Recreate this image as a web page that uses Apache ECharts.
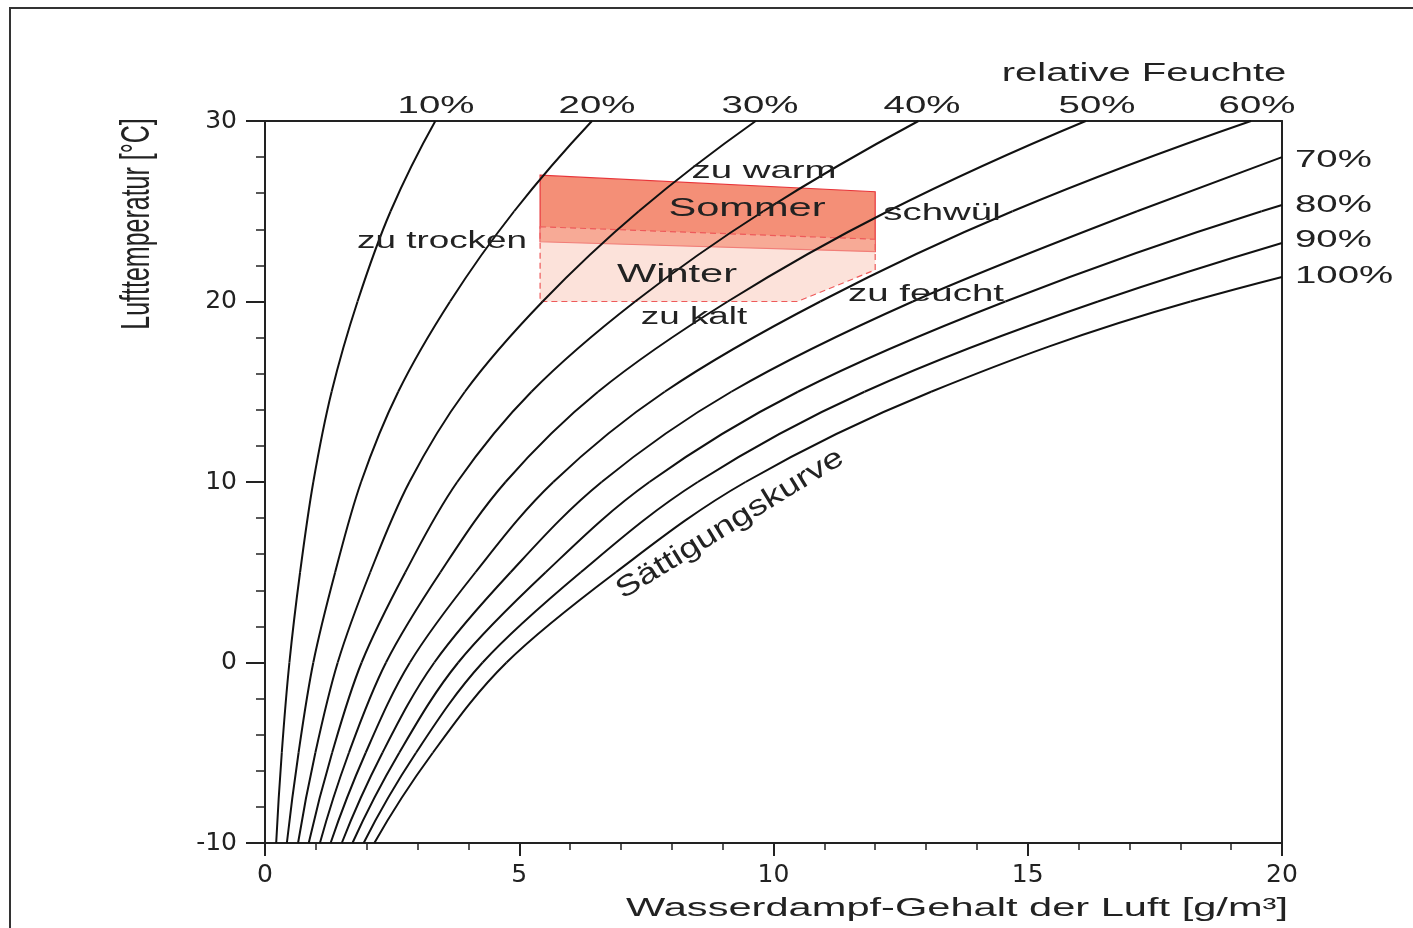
<!DOCTYPE html>
<html>
<head>
<meta charset="utf-8">
<title>Relative Feuchte</title>
<script src="https://cdn.jsdelivr.net/npm/echarts@6/dist/echarts.min.js"></script>
<style>
  html, body { margin: 0; padding: 0; background: #fff; }
  #main { width: 1413px; height: 928px; }
</style>
</head>
<body>
<div id="main"></div>
<script>
const temps = [-10, -5, 0, 5, 10, 15, 20, 25, 30];

// Wasserdampf-Gehalt (g/m³) je Kurve
const rh10 = [0.22, 0.33, 0.48, 0.69, 0.95, 1.31, 1.82, 2.47, 3.35];
const rh20 = [0.43, 0.66, 0.95, 1.38, 1.89, 2.62, 3.64, 4.90, 6.43];
const rh30 = [0.65, 0.99, 1.43, 2.07, 2.84, 3.93, 5.46, 7.35, 9.65];
const rh40 = [0.86, 1.32, 1.90, 2.76, 3.78, 5.24, 7.28, 9.80, 12.85];
const rh50 = [1.08, 1.65, 2.38, 3.45, 4.73, 6.55, 9.10, 12.25, 16.14];
const rh60 = [1.29, 1.98, 2.85, 4.14, 5.67, 7.86, 10.92, 14.70, 19.39];
const rh70 = [1.51, 2.31, 3.33, 4.83, 6.62, 9.17, 12.74, 17.15];
const rh80 = [1.72, 2.64, 3.80, 5.52, 7.56, 10.48, 14.56, 19.60];
const rh90 = [1.94, 2.97, 4.28, 6.21, 8.51, 11.79, 16.38];
const rh100 = [2.15, 3.30, 4.75, 6.90, 9.45, 13.10, 18.20];

// Temperatur, bei der 70..100 % den rechten Rand (20 g/m³) erreichen
const edgeTemps = { rh70: 28.0, rh80: 25.35, rh90: 23.24, rh100: 21.36 };

// Behaglichkeitsbereiche [g/m³, °C]
const sommerZone = [[5.41, 27.0], [12.0, 26.08], [12.0, 22.76], [5.41, 23.31]];
const winterZone = [[5.41, 24.14], [12.0, 23.45], [12.0, 21.75], [10.47, 20.0], [5.41, 20.0]];

const curves = { rh10, rh20, rh30, rh40, rh50, rh60, rh70, rh80, rh90, rh100 };

const topLabels = ['10%', '20%', '30%', '40%', '50%', '60%'];
const rightLabels = ['70%', '80%', '90%', '100%'];

const FONT = 'Liberation Sans';
const INK = '#222';

function curvePoints(name) {
  const pts = curves[name].map((x, i) => [x, temps[i]]);
  if (edgeTemps[name] !== undefined) pts.push([20, edgeTemps[name]]);
  return pts;
}

// glatte Kurve x(T) durch die Stützpunkte (kubische Hermite-Segmente)
function bezierSegments(pts) {
  const n = pts.length;
  const h = [], s = [];
  for (let i = 0; i < n - 1; i++) {
    h[i] = pts[i + 1][1] - pts[i][1];
    s[i] = (pts[i + 1][0] - pts[i][0]) / h[i];
  }
  const m = [];
  for (let i = 1; i < n - 1; i++) {
    m[i] = (s[i - 1] * h[i] + s[i] * h[i - 1]) / (h[i - 1] + h[i]);
  }
  m[0] = s[0] - (s[1] - s[0]) * h[0] / (h[0] + h[1]);
  m[n - 1] = s[n - 2] + (s[n - 2] - s[n - 3]) * h[n - 2] / (h[n - 3] + h[n - 2]);
  const segs = [];
  for (let i = 0; i < n - 1; i++) {
    const [x0, t0] = pts[i], [x1, t1] = pts[i + 1];
    segs.push([
      [x0, t0],
      [x0 + m[i] * h[i] / 3, t0 + h[i] / 3],
      [x1 - m[i + 1] * h[i] / 3, t1 - h[i] / 3],
      [x1, t1]
    ]);
  }
  return segs;
}

function curveSeries(name) {
  const pts = curvePoints(name);
  const segs = bezierSegments(pts);
  return {
    type: 'custom',
    name: name,
    coordinateSystem: 'cartesian2d',
    data: pts,
    encode: { x: 0, y: 1 },
    z: 3,
    silent: true,
    renderItem: function (params, api) {
      if (params.dataIndex !== 0) return null;
      return {
        type: 'group',
        children: segs.map(seg => {
          const p = seg.map(q => api.coord(q));
          return {
            type: 'bezierCurve',
            shape: {
              x1: p[0][0], y1: p[0][1],
              cpx1: p[1][0], cpy1: p[1][1],
              cpx2: p[2][0], cpy2: p[2][1],
              x2: p[3][0], y2: p[3][1]
            },
            style: { stroke: '#111', lineWidth: 2, fill: null }
          };
        })
      };
    }
  };
}

function zoneSeries(points, style, z) {
  return {
    type: 'custom',
    coordinateSystem: 'cartesian2d',
    data: points,
    encode: { x: 0, y: 1 },
    z: z,
    silent: true,
    renderItem: function (params, api) {
      if (params.dataIndex !== 0) return null;
      return {
        type: 'polygon',
        shape: { points: points.map(p => api.coord(p)) },
        style: style
      };
    }
  };
}

// Text in der Vorlage ist horizontal gestreckt
function label(text, x, y, size, opts) {
  opts = opts || {};
  const align = opts.align || 'center';
  return {
    type: 'text',
    x: x, y: y,
    scaleX: opts.scaleX || 1.6,
    scaleY: opts.scaleY || 1,
    rotation: opts.rotation || 0,
    z: 10,
    silent: true,
    style: {
      text: text,
      fill: INK,
      fontSize: size,
      fontFamily: FONT,
      align: align, textAlign: align,
      verticalAlign: 'middle', textVerticalAlign: 'middle'
    }
  };
}

const chart = echarts.init(document.getElementById('main'));

const series = Object.keys(curves).map(curveSeries);

series.push(zoneSeries(sommerZone, { fill: '#F48F77', stroke: '#E8363A', lineWidth: 1.2 }, 1));
series.push(zoneSeries(winterZone, {
  fill: 'rgba(250,198,182,0.5)', stroke: '#EE5A5A', lineWidth: 1.2, lineDash: [6, 4]
}, 2));

const axisCommon = {
  type: 'value',
  splitLine: { show: false },
  axisLine: { show: true, onZero: false, lineStyle: { color: INK, width: 2 } }
};

const graphics = [
  {
    type: 'rect', silent: true, z: 0,
    shape: { x: 10, y: 8, width: 1600, height: 1000 },
    style: { fill: 'none', stroke: '#333', lineWidth: 2 }
  },
  label('relative Feuchte', 1144, 74, 25),
  label('zu warm', 764, 171, 24),
  label('Sommer', 747, 209, 26),
  label('schwül', 942, 213, 24),
  label('zu trocken', 442, 242, 23),
  label('Winter', 677, 275, 26),
  label('zu feucht', 926, 294, 24),
  label('zu kalt', 694, 318, 23),
  label('Sättigungskurve', 730, 524, 25, { rotation: 0.553, scaleX: 1.46, scaleY: 1.15 }),
  label('Lufttemperatur [°C]', 138, 224, 25, { rotation: Math.PI / 2, scaleX: 1, scaleY: 1.6 }),
  label('Wasserdampf-Gehalt der Luft [g/m³]', 957, 909, 26)
];

const topX = [436, 597, 760, 922, 1097, 1257];
topLabels.forEach((t, i) => graphics.push(label(t, topX[i], 106, 24)));
const rightY = [160, 205, 240, 276];
rightLabels.forEach((t, i) => graphics.push(label(t, 1295, rightY[i], 24, { align: 'left' })));

chart.setOption({
  animation: false,
  backgroundColor: '#fff',
  grid: { left: 265, top: 121, width: 1017, height: 722 },
  xAxis: [
    Object.assign({}, axisCommon, {
      min: 0, max: 20, interval: 5, position: 'bottom',
      axisTick: { show: true, length: 13, lineStyle: { color: INK, width: 2 } },
      minorTick: { show: true, splitNumber: 5, length: 7, lineStyle: { color: INK, width: 1.5 } },
      axisLabel: { fontFamily: 'DejaVu Sans', fontSize: 25, color: INK, margin: 20 }
    }),
    Object.assign({}, axisCommon, {
      min: 0, max: 20, position: 'top',
      axisTick: { show: false }, axisLabel: { show: false }
    })
  ],
  yAxis: [
    Object.assign({}, axisCommon, {
      min: -10, max: 30, interval: 10, position: 'left',
      axisTick: { show: true, length: 19, lineStyle: { color: INK, width: 2 } },
      minorTick: { show: true, splitNumber: 5, length: 9, lineStyle: { color: INK, width: 1.5 } },
      axisLabel: { fontFamily: 'DejaVu Sans', fontSize: 25, color: INK, margin: 28 }
    }),
    Object.assign({}, axisCommon, {
      min: -10, max: 30, position: 'right',
      axisTick: { show: false }, axisLabel: { show: false }
    })
  ],
  graphic: graphics,
  series: series
});
</script>
</body>
</html>
